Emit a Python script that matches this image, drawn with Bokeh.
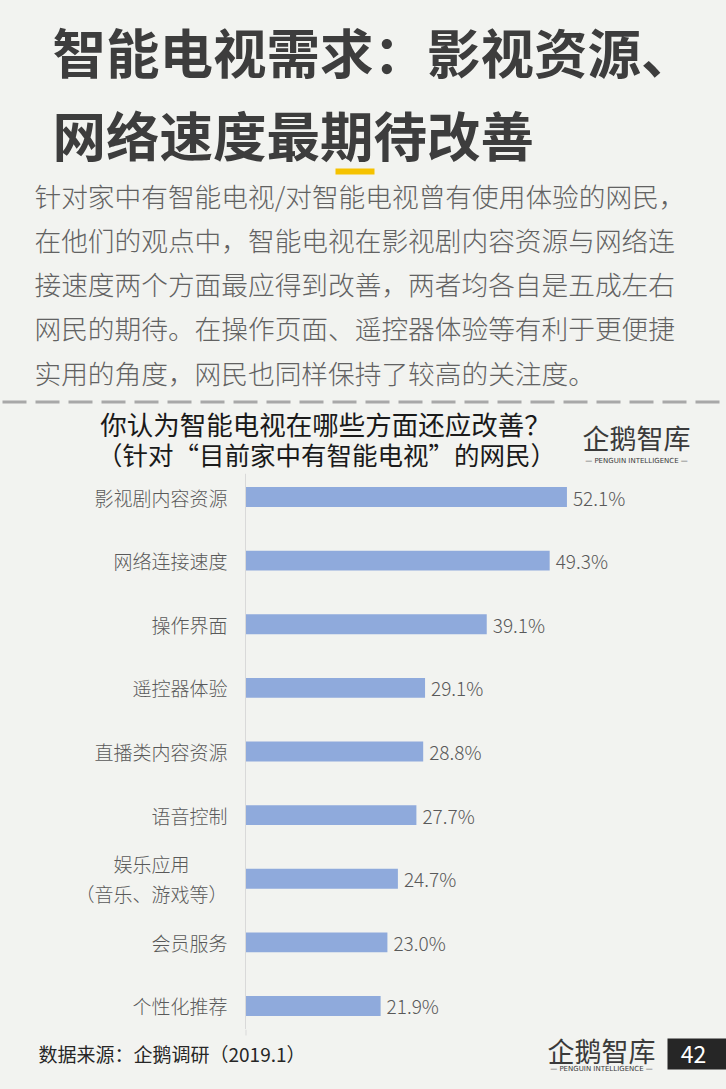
from bokeh.plotting import figure
from bokeh.models import Range1d, FactorRange, LabelSet, ColumnDataSource, Span
from bokeh.layouts import column
from bokeh.embed import file_html
from bokeh.resources import INLINE
from bokeh.core.properties import value

# ---------------- data ----------------
title_lines = ["智能电视需求：影视资源、", "网络速度最期待改善"]
intro_lines = [
    "针对家中有智能电视/对智能电视曾有使用体验的网民，",
    "在他们的观点中，智能电视在影视剧内容资源与网络连",
    "接速度两个方面最应得到改善，两者均各自是五成左右",
    "网民的期待。在操作页面、遥控器体验等有利于更便捷",
    "实用的角度，网民也同样保持了较高的关注度。",
]
chart_title = ["你认为智能电视在哪些方面还应改善？", "（针对“目前家中有智能电视”的网民）"]
categories = [
    "影视剧内容资源",
    "网络连接速度",
    "操作界面",
    "遥控器体验",
    "直播类内容资源",
    "语音控制",
    "\u3000\u3000娱乐应用\n（音乐、游戏等）",
    "会员服务",
    "个性化推荐",
]
values = [52.1, 49.3, 39.1, 29.1, 28.8, 27.7, 24.7, 23.0, 21.9]
value_labels = [f"{v:.1f}%" for v in values]
source_text = "数据来源：企鹅调研（2019.1）"
logo_text = "企鹅智库"
logo_sub = "— PENGUIN INTELLIGENCE —"
page_number = "42"

# ---------------- style ----------------
BG = "#f2f3f0"
FONT = "Noto Sans CJK SC"
LIGHT = "Noto Sans CJK SC Light"
W = 726
Y_CHART0, Y_CHART1 = 473, 1029


def style(f):
    f.grid.visible = False
    f.outline_line_color = None
    f.background_fill_color = BG
    f.border_fill_color = BG
    return f


def blank(y0, y1):
    f = figure(width=W, height=y1 - y0, x_range=Range1d(0, W), y_range=Range1d(y1, y0),
               output_backend="svg", toolbar_location=None, min_border=0,
               x_axis_location=None, y_axis_location=None)
    return style(f)


# ---------------- top block ----------------
top = blank(0, Y_CHART0)
top.text(x=[52, 52], y=[50, 133], text=title_lines, text_font=value(FONT),
         text_font_size="53.5px", text_font_style="bold", text_color="#3d3d3d",
         text_baseline="middle", text_align="left")
top.quad(left=[335], right=[374], top=[168], bottom=[174], color="#f5c200", line_color=None)
top.text(x=[34] * 5, y=[195, 239, 283, 327, 372], text=intro_lines, text_font=value(LIGHT),
         text_font_size="26.7px", text_color="#626262", text_baseline="middle", text_align="left")
top.line(x=[0, W], y=[401.5, 401.5], line_width=3, line_color="#a8a8a8",
         line_dash="24 9", line_dash_offset=31)
top.text(x=[325], y=[423], text=chart_title[:1], text_font=value(FONT),
         text_font_size="26.5px", text_color="#1a1a1a", text_baseline="middle", text_align="center")
top.text(x=[326], y=[453], text=chart_title[1:], text_font=value(FONT),
         text_font_size="25.5px", text_color="#1a1a1a", text_baseline="middle", text_align="center")
top.text(x=[636], y=[437], text=[logo_text], text_font=value(FONT), text_font_size="27px",
         text_color="#3a3a3a", text_baseline="middle", text_align="center")
top.text(x=[636], y=[460], text=[logo_sub], text_font=value("DejaVu Sans"), text_font_size="7px",
         text_color="#3a3a3a", text_baseline="middle", text_align="center")

# ---------------- chart ----------------
src = ColumnDataSource(dict(cat=categories, val=values, lab=value_labels, zero=[0] * len(values)))
chart = figure(width=W, height=Y_CHART1 - Y_CHART0,
               y_range=FactorRange(factors=list(reversed(categories)), range_padding=-0.1306,
                                   range_padding_units="absolute"),
               x_range=Range1d(-39.71, 77.96), output_backend="svg", toolbar_location=None,
               min_border=0, x_axis_location=None, y_axis_location=None)
style(chart)
chart.hbar(y="cat", left=0, right="val", height=0.314, source=src, color="#8faadc", line_color=None)
chart.add_layout(Span(location=0, dimension="height", line_color="#d9d9d9", line_width=1))
chart.add_layout(LabelSet(x="val", y="cat", text="lab", x_offset=6, source=src,
                          text_baseline="middle", text_font_size="19px", text_color="#595959",
                          text_font=value(LIGHT)))
chart.add_layout(LabelSet(x="zero", y="cat", text="cat", x_offset=-18, source=src,
                          text_align="right", text_baseline="middle", text_font_size="19px",
                          text_color="#595959", text_font=value(LIGHT), text_line_height=1.1))

# ---------------- footer ----------------
foot = blank(Y_CHART1, 1089)
foot.line(x=[245.5, 245.5], y=[Y_CHART1, 1035], line_color="#d9d9d9", line_width=1)
foot.text(x=[38], y=[1053], text=[source_text], text_font=value(FONT), text_font_size="19px",
          text_color="#262626", text_baseline="middle", text_align="left")
foot.text(x=[601], y=[1050], text=[logo_text], text_font=value(FONT), text_font_size="27px",
          text_color="#3a3a3a", text_baseline="middle", text_align="center")
foot.text(x=[601], y=[1068], text=[logo_sub], text_font=value("DejaVu Sans"), text_font_size="7px",
          text_color="#3a3a3a", text_baseline="middle", text_align="center")
foot.quad(left=[667], right=[W], top=[1038], bottom=[1069], color="#262626", line_color=None)
foot.text(x=[693], y=[1054], text=[page_number], text_font=value(FONT), text_font_size="23px",
          text_color="#ffffff", text_baseline="middle", text_align="center")

p = column(top, chart, foot, spacing=0)

html = file_html(p, INLINE)
html = html.replace("<head>", "<head><style>body{background:#f2f3f0;}</style>", 1)
open("out.html", "w").write(html)
